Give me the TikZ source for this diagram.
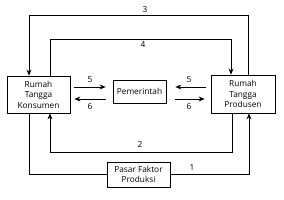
\documentclass[tikz,border=0pt]{standalone}
\usepackage{fontspec}
\setmainfont{Open Sans}
\usetikzlibrary{arrows.meta}
\begin{document}
\begin{tikzpicture}[x=1pt,y=-1pt,
  font=\fontsize{8.3}{10.5}\selectfont,
  box/.style={draw,line width=0.8pt,align=center,inner sep=0pt},
  ln/.style={line width=0.8pt},
  arr/.style={line width=0.8pt,-{Stealth[length=6pt,width=5pt]}},
  lab/.style={inner sep=0pt}]
\useasboundingbox (0,0) rectangle (284,200);
\node[box,minimum width=63pt,minimum height=37pt] (kons) at (38.5,94.5) {Rumah\\Tangga\\Konsumen};
\node[box,minimum width=64pt,minimum height=38pt] (prod) at (243,94) {Rumah\\Tangga\\Produsen};
\node[box,minimum width=53pt,minimum height=23pt] (pem) at (139.5,91.5) {Pemerintah};
\node[box,minimum width=63pt,minimum height=25pt] (pasar) at (138.5,174.5) {Pasar Faktor\\Produksi};
% 3
\draw[arr] (prod.north -| 248,0) |- (29,15) -- (kons.north -| 29,0);
% 4
\draw[arr] (kons.north -| 50,0) |- (231,39) -- (prod.north -| 231,0);
% 2
\draw[arr] (prod.south -| 232,0) |- (50,152) -- (kons.south -| 50,0);
% 1
\draw[ln] (kons.south -| 29,0) |- (pasar.west);
\draw[arr] (pasar.east) -| (prod.south -| 249,0);
% 5 / 6
\draw[arr] ([xshift=4pt,yshift=7.5pt]kons.east) -- ([xshift=-7pt,yshift=4.5pt]pem.west);
\draw[arr] ([xshift=-7pt,yshift=-7.5pt]pem.west) -- ([xshift=4pt,yshift=-4.5pt]kons.east);
\draw[arr] ([xshift=-5pt,yshift=7pt]prod.west) -- ([xshift=9pt,yshift=4.5pt]pem.east);
\draw[arr] ([xshift=9pt,yshift=-7.5pt]pem.east) -- ([xshift=-6pt,yshift=-5pt]prod.west);
% labels
\node[lab] (l3) at (145,10) {3};
\node[lab] (l4) at (143,45) {4};
\node[lab] (l2) at (140,144) {2};
\node[lab] (l1) at (192,168) {1};
\node[lab] (l5a) at (90,80) {5};
\node[lab] (l6a) at (90,107) {6};
\node[lab] (l5b) at (189,80) {5};
\node[lab] (l6b) at (189,107) {6};
\end{tikzpicture}
\end{document}
